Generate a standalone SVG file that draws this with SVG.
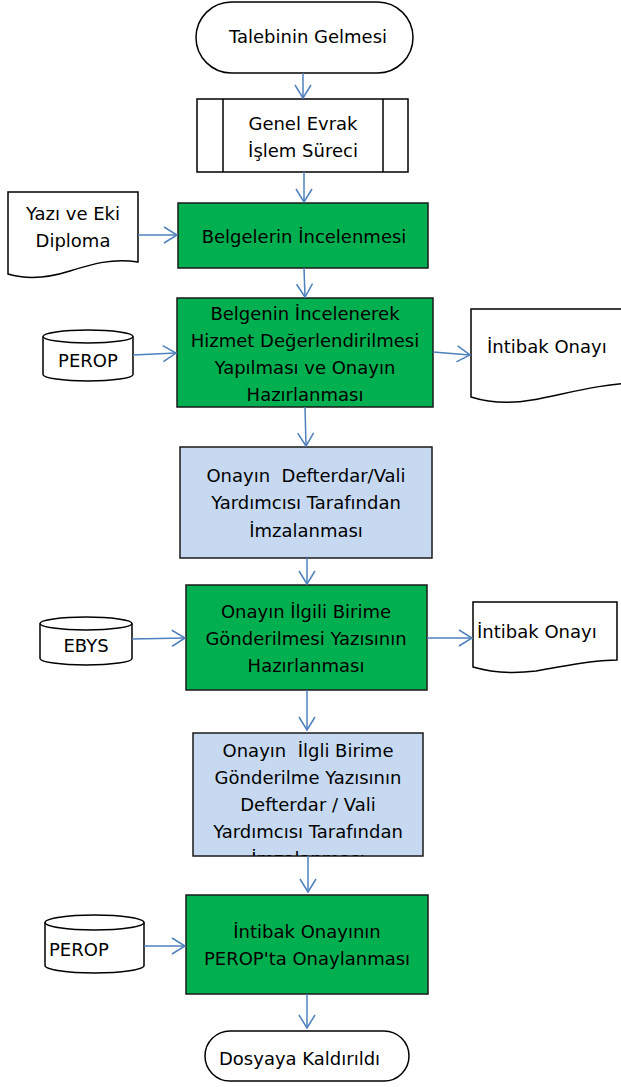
<svg xmlns="http://www.w3.org/2000/svg" width="621" height="1087" viewBox="0 0 621 1087">
<style>
text{font-family:"DejaVu Sans","Verdana",sans-serif;font-size:18px;fill:#000;text-anchor:middle}
.s{text-anchor:start}
.w{fill:#fff;stroke:#000;stroke-width:1.5}
.g{fill:#00B050;stroke:#1a1a1a;stroke-width:1.5}
.b{fill:#C6D9F1;stroke:#1a1a1a;stroke-width:1.5}
.c{fill:none;stroke:#4F81BD;stroke-width:1.5}
</style>
<defs>
<marker id="ah" markerUnits="userSpaceOnUse" markerWidth="16" markerHeight="18" refX="13" refY="8" orient="auto" overflow="visible">
<path d="M0,0 L13,8 L0,16" fill="none" stroke="#4F81BD" stroke-width="1.5"/>
</marker>
<clipPath id="clipB2"><rect x="193" y="733" width="230" height="123"/></clipPath>
</defs>
<g id="start">
<rect class="w" x="196" y="2" width="217" height="71" rx="35.5"/>
<text x="308" y="43">Talebinin Gelmesi</text>
</g>
<g id="genel-evrak">
<rect class="w" x="197" y="99" width="211" height="73"/>
<line x1="223" y1="99" x2="223" y2="172" stroke="#000" stroke-width="1.5"/>
<line x1="383" y1="99" x2="383" y2="172" stroke="#000" stroke-width="1.5"/>
<text x="303" y="130">Genel Evrak</text>
<text x="303" y="157">İşlem Süreci</text>
</g>
<g id="doc-yazi">
<path class="w" d="M8,192 H138 V262 C112,258 92,264 70,271 C48,278 28,280 8,274 Z"/>
<text x="73" y="220">Yazı ve Eki</text>
<text x="73" y="247">Diploma</text>
</g>
<g id="belgelerin">
<rect class="g" x="178" y="203" width="250" height="65"/>
<text x="304" y="243">Belgelerin İncelenmesi</text>
</g>
<g id="perop1">
<path class="w" d="M43,336.5 A45,6.5 0 0 1 133,336.5 V374.5 A45,6.5 0 0 1 43,374.5 Z"/>
<path d="M43,336.5 A45,6.5 0 0 0 133,336.5" fill="none" stroke="#000" stroke-width="1.5"/>
<text x="88" y="367">PEROP</text>
</g>
<g id="belgenin">
<rect class="g" x="177" y="298" width="256" height="109"/>
<text x="305" y="320">Belgenin İncelenerek</text>
<text x="305" y="347">Hizmet Değerlendirilmesi</text>
<text x="305" y="374">Yapılması ve Onayın</text>
<text x="305" y="401">Hazırlanması</text>
</g>
<g id="intibak1">
<path class="w" d="M471,309 H640 V383 C600,383 562,395 532,400 C510,404 490,403 471,397 Z"/>
<text class="s" x="487" y="353">İntibak Onayı</text>
</g>
<g id="imza1">
<rect class="b" x="180" y="447" width="252" height="111"/>
<text x="306" y="482" xml:space="preserve">Onayın  Defterdar/Vali</text>
<text x="306" y="509">Yardımcısı Tarafından</text>
<text x="306" y="537">İmzalanması</text>
</g>
<g id="ebys">
<path class="w" d="M40,623.5 A46,6.5 0 0 1 132,623.5 V658.5 A46,6.5 0 0 1 40,658.5 Z"/>
<path d="M40,623.5 A46,6.5 0 0 0 132,623.5" fill="none" stroke="#000" stroke-width="1.5"/>
<text x="86" y="652">EBYS</text>
</g>
<g id="gonderilmesi">
<rect class="g" x="186" y="585" width="241" height="105"/>
<text x="306" y="618">Onayın İlgili Birime</text>
<text x="306" y="645">Gönderilmesi Yazısının</text>
<text x="306" y="672">Hazırlanması</text>
</g>
<g id="intibak2">
<path class="w" d="M473,602 H617 V660 C588,660 562,667 536,671 C512,674 490,672 473,667 Z"/>
<text class="s" x="477" y="638">İntibak Onayı</text>
</g>
<g id="imza2">
<rect class="b" x="193" y="733" width="230" height="123"/>
<g clip-path="url(#clipB2)">
<text x="308" y="757" xml:space="preserve">Onayın  İlgli Birime</text>
<text x="308" y="784">Gönderilme Yazısının</text>
<text x="308" y="811">Defterdar / Vali</text>
<text x="308" y="838">Yardımcısı Tarafından</text>
<text x="308" y="865">İmzalanması</text>
</g>
</g>
<g id="perop2">
<path class="w" d="M45,922.5 A49.5,7.5 0 0 1 144,922.5 V965.5 A49.5,7.5 0 0 1 45,965.5 Z"/>
<path d="M45,922.5 A49.5,7.5 0 0 0 144,922.5" fill="none" stroke="#000" stroke-width="1.5"/>
<text class="s" x="49" y="956">PEROP</text>
</g>
<g id="perop-onay">
<rect class="g" x="186" y="895" width="242" height="99"/>
<text x="307" y="938">İntibak Onayının</text>
<text x="307" y="965">PEROP'ta Onaylanması</text>
</g>
<g id="end">
<rect class="w" x="205" y="1031" width="204" height="50" rx="25"/>
<text class="s" x="219" y="1065">Dosyaya Kaldırıldı</text>
</g>
<g id="connectors">
<path class="c" marker-end="url(#ah)" d="M303,73 L303,98"/>
<path class="c" marker-end="url(#ah)" d="M304,172 L304,202"/>
<path class="c" marker-end="url(#ah)" d="M138,235 L177,235"/>
<path class="c" marker-end="url(#ah)" d="M304,268 L305,297"/>
<path class="c" marker-end="url(#ah)" d="M133,355 L176,353"/>
<path class="c" marker-end="url(#ah)" d="M433,352 L470,355"/>
<path class="c" marker-end="url(#ah)" d="M305,407 L306,446"/>
<path class="c" marker-end="url(#ah)" d="M307,558 L307,584"/>
<path class="c" marker-end="url(#ah)" d="M132,639 L185,638"/>
<path class="c" marker-end="url(#ah)" d="M427,638 L472,638"/>
<path class="c" marker-end="url(#ah)" d="M307,690 L307,730"/>
<path class="c" marker-end="url(#ah)" d="M308,856 L308,892"/>
<path class="c" marker-end="url(#ah)" d="M144,946 L185,946"/>
<path class="c" marker-end="url(#ah)" d="M307,994 L307,1028"/>
</g>
</svg>
